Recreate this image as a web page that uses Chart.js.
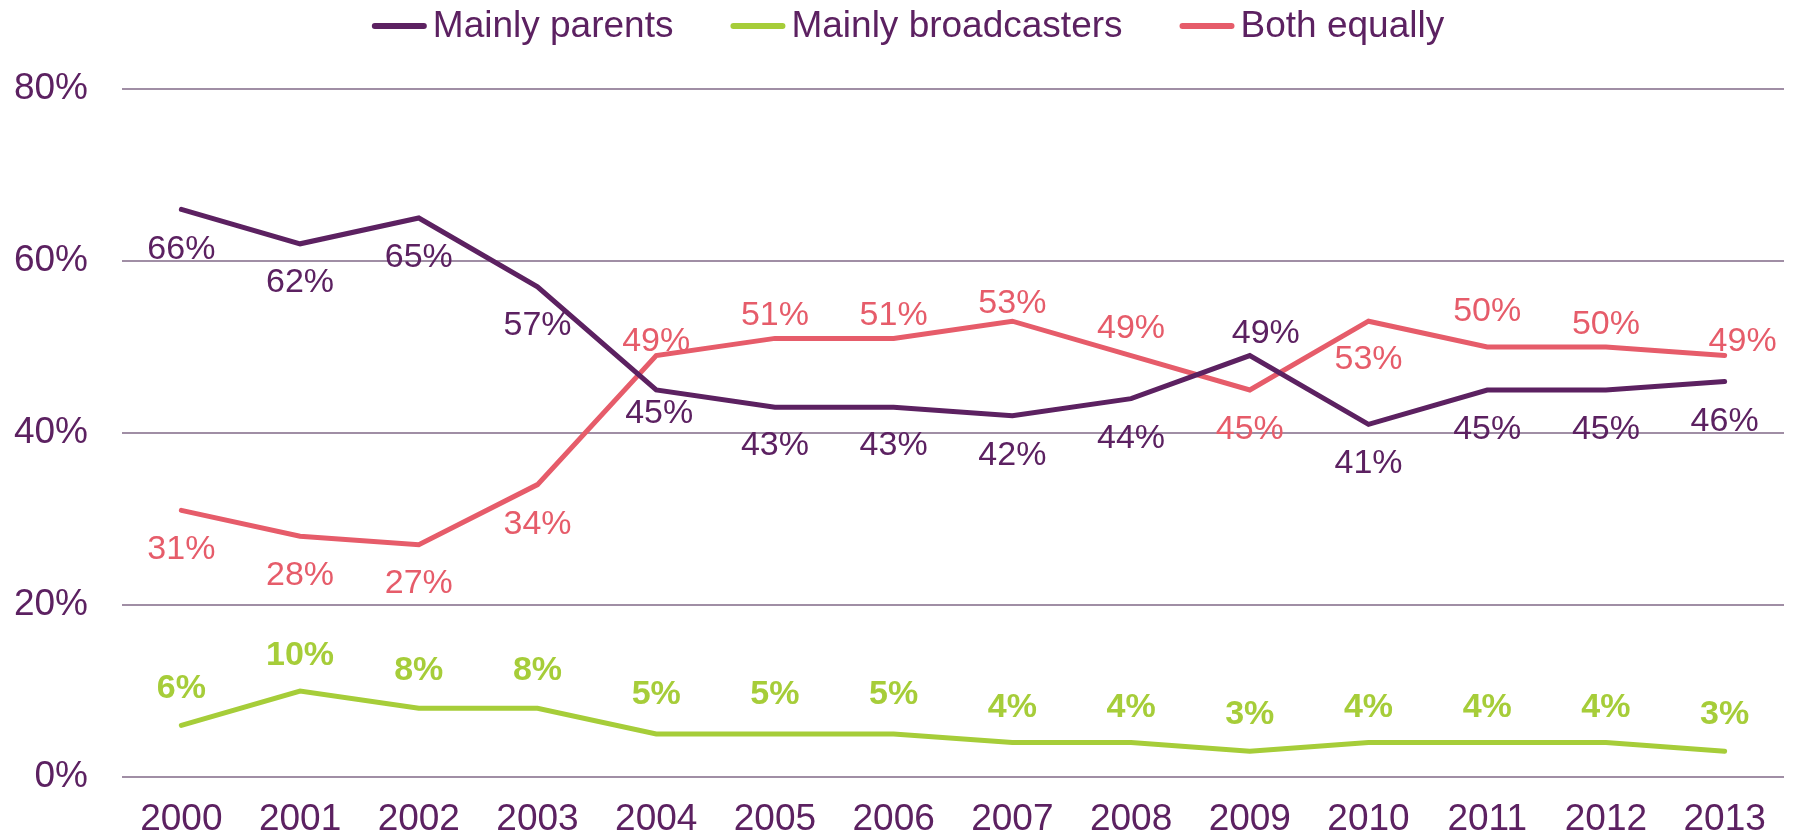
<!DOCTYPE html>
<html>
<head>
<meta charset="utf-8">
<script src="https://cdn.jsdelivr.net/npm/chart.js@4.4.1/dist/chart.umd.min.js"></script>
<style>
  html, body { margin: 0; padding: 0; background: #fff; }
  #wrap { width: 1796px; height: 837px; }
</style>
</head>
<body>
<div id="wrap"><canvas id="line-chart"></canvas></div>
<script>
var years = ["2000","2001","2002","2003","2004","2005","2006","2007","2008","2009","2010","2011","2012","2013"];
var mainlyParents = [66,62,65,57,45,43,43,42,44,49,41,45,45,46];
var mainlyBroadcasters = [6,10,8,8,5,5,5,4,4,3,4,4,4,3];
var bothEqually = [31,28,27,34,49,51,51,53,49,45,53,50,50,49];
var yTicks = [0,20,40,60,80];

// label placement (pixels from the point), as in the original
var parentsDy = [40,39,40,39,24,38,38,40,40,-22,39,40,40,40];
var parentsDx = [0,0,0,0,3,0,0,0,0,16,0,0,0,0];
var bothDy = [39,39,39,40,-14,-23,-23,-18,-27,40,38,-35,-22,-14];
var bothDx = [0,0,0,0,0,0,0,0,0,0,0,0,0,18];
var broadDy = [-37,-35,-38,-38,-39,-39,-39,-35,-35,-37,-35,-35,-35,-37];

var purple = "#5c2161";
var green = "#a6cd39";
var pink = "#e65c6a";
var font = "'Liberation Sans', Arial, sans-serif";

var pointLabels = {
    id: "pointLabels",
    afterDatasetsDraw: function(chart){
        var ctx = chart.ctx;
        ctx.save();
        ctx.textAlign = "center";
        ctx.textBaseline = "middle";
        chart.data.datasets.forEach(function(ds, i){
            var meta = chart.getDatasetMeta(i);
            ctx.fillStyle = ds.borderColor;
            ctx.font = (ds.labelBold ? "bold " : "") + "34px " + font;
            meta.data.forEach(function(pt, j){
                var dx = ds.labelDx ? ds.labelDx[j] : 0;
                ctx.fillText(ds.data[j] + "%", pt.x + dx, pt.y + ds.labelDy[j]);
            });
        });
        ctx.restore();
    }
};

// legend drawn like the original: short line, text right next to it
var lineLegend = {
    id: "lineLegend",
    afterDraw: function(chart){
        var ctx = chart.ctx;
        var sets = chart.data.datasets;
        var lineW = 55, gapText = 6, gapItem = 57, y = 26;
        ctx.save();
        ctx.font = "37px " + font;
        var total = 0;
        sets.forEach(function(ds, i){
            total += lineW + gapText + ctx.measureText(ds.label).width;
            if (i < sets.length - 1) total += gapItem;
        });
        var x = 908 - total / 2;
        ctx.textBaseline = "middle";
        ctx.textAlign = "left";
        sets.forEach(function(ds){
            ctx.strokeStyle = ds.borderColor;
            ctx.lineWidth = 6;
            ctx.lineCap = "round";
            ctx.beginPath();
            ctx.moveTo(x + 3, y);
            ctx.lineTo(x + lineW - 3, y);
            ctx.stroke();
            x += lineW + gapText;
            ctx.fillStyle = purple;
            ctx.fillText(ds.label, x, y + 1);
            x += ctx.measureText(ds.label).width + gapItem;
        });
        ctx.restore();
    }
};

new Chart(document.getElementById("line-chart"), {
    type: 'line',
    data: {
        labels: years,
        datasets: [
            {
                label: "Mainly parents",
                data: mainlyParents,
                borderColor: purple,
                backgroundColor: purple,
                labelDy: parentsDy,
                labelDx: parentsDx
            },
            {
                label: "Mainly broadcasters",
                data: mainlyBroadcasters,
                borderColor: green,
                backgroundColor: green,
                labelDy: broadDy,
                labelBold: true
            },
            {
                label: "Both equally",
                data: bothEqually,
                borderColor: pink,
                backgroundColor: pink,
                labelDy: bothDy,
                labelDx: bothDx
            }
        ]
    },
    options: {
        responsive: true,
        maintainAspectRatio: false,
        animation: false,
        elements: {
            line: { borderWidth: 5, tension: 0, borderCapStyle: 'round', borderJoinStyle: 'miter' },
            point: { radius: 0, hoverRadius: 0 }
        },
        layout: { padding: { top: 89, right: 12, left: 14, bottom: 0 } },
        plugins: {
            legend: { display: false },
            tooltip: { enabled: false }
        },
        scales: {
            x: {
                offset: true,
                grid: { display: false, drawTicks: false },
                border: { display: false },
                afterFit: function(scale){ scale.height = 60; },
                ticks: { color: purple, font: { family: font, size: 37, lineHeight: 1 }, padding: 24, maxRotation: 0 }
            },
            y: {
                min: 0,
                max: 80,
                afterBuildTicks: function(scale){
                    scale.ticks = yTicks.map(function(v){ return { value: v }; });
                },
                afterFit: function(scale){ scale.width = 108; },
                grid: { color: "#a08ea5", lineWidth: 2, drawTicks: false },
                border: { display: false },
                ticks: {
                    color: purple,
                    font: { family: font, size: 37 },
                    padding: 34,
                    callback: function(v){ return v + "%"; }
                }
            }
        }
    },
    plugins: [pointLabels, lineLegend]
});
</script>
</body>
</html>
